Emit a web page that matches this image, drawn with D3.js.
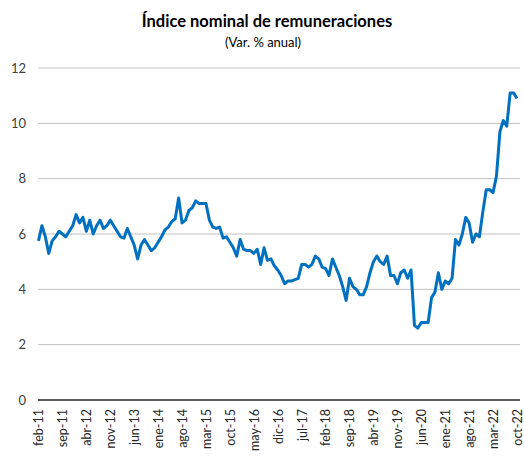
<!DOCTYPE html>
<html>
<head>
<meta charset="utf-8">
<script src="https://cdn.jsdelivr.net/npm/d3@7"></script>
<style>
  body { margin: 0; background: #fff; }
  svg { font-family: Lato, "Open Sans", sans-serif; }
</style>
</head>
<body>
<script>
// month names used for the categories (feb-11 .. oct-22)
const monthNames = ["ene", "feb", "mar", "abr", "may", "jun", "jul", "ago", "sep", "oct", "nov", "dic"];
const startYear = 2011, startMonth = 1;

// index nominal de remuneraciones, var % anual
const values = [
  5.75, 6.3, 5.9, 5.3, 5.75, 5.9, 6.1, 6.0, 5.9, 6.1,
  6.3, 6.7, 6.4, 6.6, 6.1, 6.5, 6.0, 6.3, 6.5, 6.2,
  6.3, 6.5, 6.3, 6.1, 5.9, 5.85, 6.2, 5.9, 5.6, 5.1,
  5.6, 5.8, 5.6, 5.4, 5.5, 5.7, 5.9, 6.15, 6.25, 6.45,
  6.55, 7.3, 6.4, 6.5, 6.85, 6.95, 7.2, 7.1, 7.1, 7.1,
  6.5, 6.25, 6.2, 6.25, 5.85, 5.9, 5.7, 5.5, 5.2, 5.8,
  5.45, 5.4, 5.4, 5.3, 5.45, 4.9, 5.5, 5.05, 5.1, 4.85,
  4.7, 4.5, 4.2, 4.3, 4.3, 4.35, 4.4, 4.9, 4.9, 4.8,
  4.9, 5.2, 5.1, 4.8, 4.75, 4.5, 5.1, 4.8, 4.5, 4.1,
  3.6, 4.4, 4.1, 4.0, 3.8, 3.8, 4.1, 4.6, 5.0, 5.2,
  5.0, 4.9, 5.2, 4.5, 4.5, 4.2, 4.6, 4.7, 4.4, 4.7,
  2.7, 2.6, 2.8, 2.8, 2.8, 3.7, 3.9, 4.6, 4.0, 4.3,
  4.2, 4.4, 5.8, 5.6, 6.0, 6.6, 6.4, 5.7, 6.0, 5.9,
  6.8, 7.6, 7.6, 7.5, 8.1, 9.7, 10.1, 9.9, 11.1, 11.1, 10.9
];

const yTicks = [0, 2, 4, 6, 8, 10, 12];
const tickEvery = 7;

// build category labels like "feb-11"
const categories = values.map((v, i) => {
  const m = startMonth + i;
  const yr = startYear + Math.floor(m / 12);
  return monthNames[m % 12] + "-" + String(yr).slice(2);
});
const tickLabels = categories.filter((c, i) => i % tickEvery === 0);

const width = 524, height = 457;
const margin = { top: 68, right: 4, bottom: 57, left: 38 };

const svg = d3.select("body").append("svg")
  .attr("width", width)
  .attr("height", height);

// title
svg.append("text")
  .attr("x", 267).attr("y", 27)
  .attr("text-anchor", "middle")
  .attr("font-size", 16.5).attr("font-weight", "bold")
  .attr("fill", "#000")
  .text("Índice nominal de remuneraciones");

svg.append("text")
  .attr("x", 263).attr("y", 47)
  .attr("text-anchor", "middle")
  .attr("font-size", 13)
  .attr("fill", "#000")
  .text("(Var. % anual)");

const x = d3.scalePoint()
  .domain(categories)
  .range([margin.left + 0.5, width - margin.right - 3]);

const y = d3.scaleLinear()
  .domain([0, 12])
  .range([height - margin.bottom, margin.top]);

// gridlines
svg.append("g")
  .selectAll("line")
  .data(yTicks.filter(d => d !== 0))
  .join("line")
  .attr("x1", margin.left).attr("x2", width - margin.right)
  .attr("y1", d => y(d)).attr("y2", d => y(d))
  .attr("stroke", "#c0c0c0").attr("stroke-width", 1);

// y labels
svg.append("g")
  .selectAll("text")
  .data(yTicks)
  .join("text")
  .attr("x", 26).attr("y", d => y(d))
  .attr("dy", "0.35em")
  .attr("text-anchor", "end")
  .attr("font-size", 13)
  .attr("fill", "#404040")
  .text(d => d);

// x axis
const xAxis = svg.append("g")
  .attr("transform", `translate(0, ${y(0)})`)
  .call(d3.axisBottom(x).tickValues(tickLabels).tickSize(0).tickPadding(0));
xAxis.select(".domain")
  .attr("d", `M${margin.left},0H${width - margin.right}`)
  .attr("stroke", "#262626").attr("stroke-width", 1.3);
xAxis.selectAll("text")
  .attr("transform", "rotate(-90)")
  .attr("text-anchor", "end")
  .attr("x", -9).attr("y", 0)
  .attr("dy", "0.35em")
  .attr("font-size", 12.5)
  .attr("font-family", "Lato, sans-serif")
  .attr("fill", "#262626");

// the line
const line = d3.line()
  .x((d, i) => x(categories[i]))
  .y(d => y(d));

svg.append("path")
  .datum(values)
  .attr("fill", "none")
  .attr("stroke", "#0070c0")
  .attr("stroke-width", 3)
  .attr("stroke-linejoin", "round")
  .attr("d", line);
</script>
</body>
</html>
